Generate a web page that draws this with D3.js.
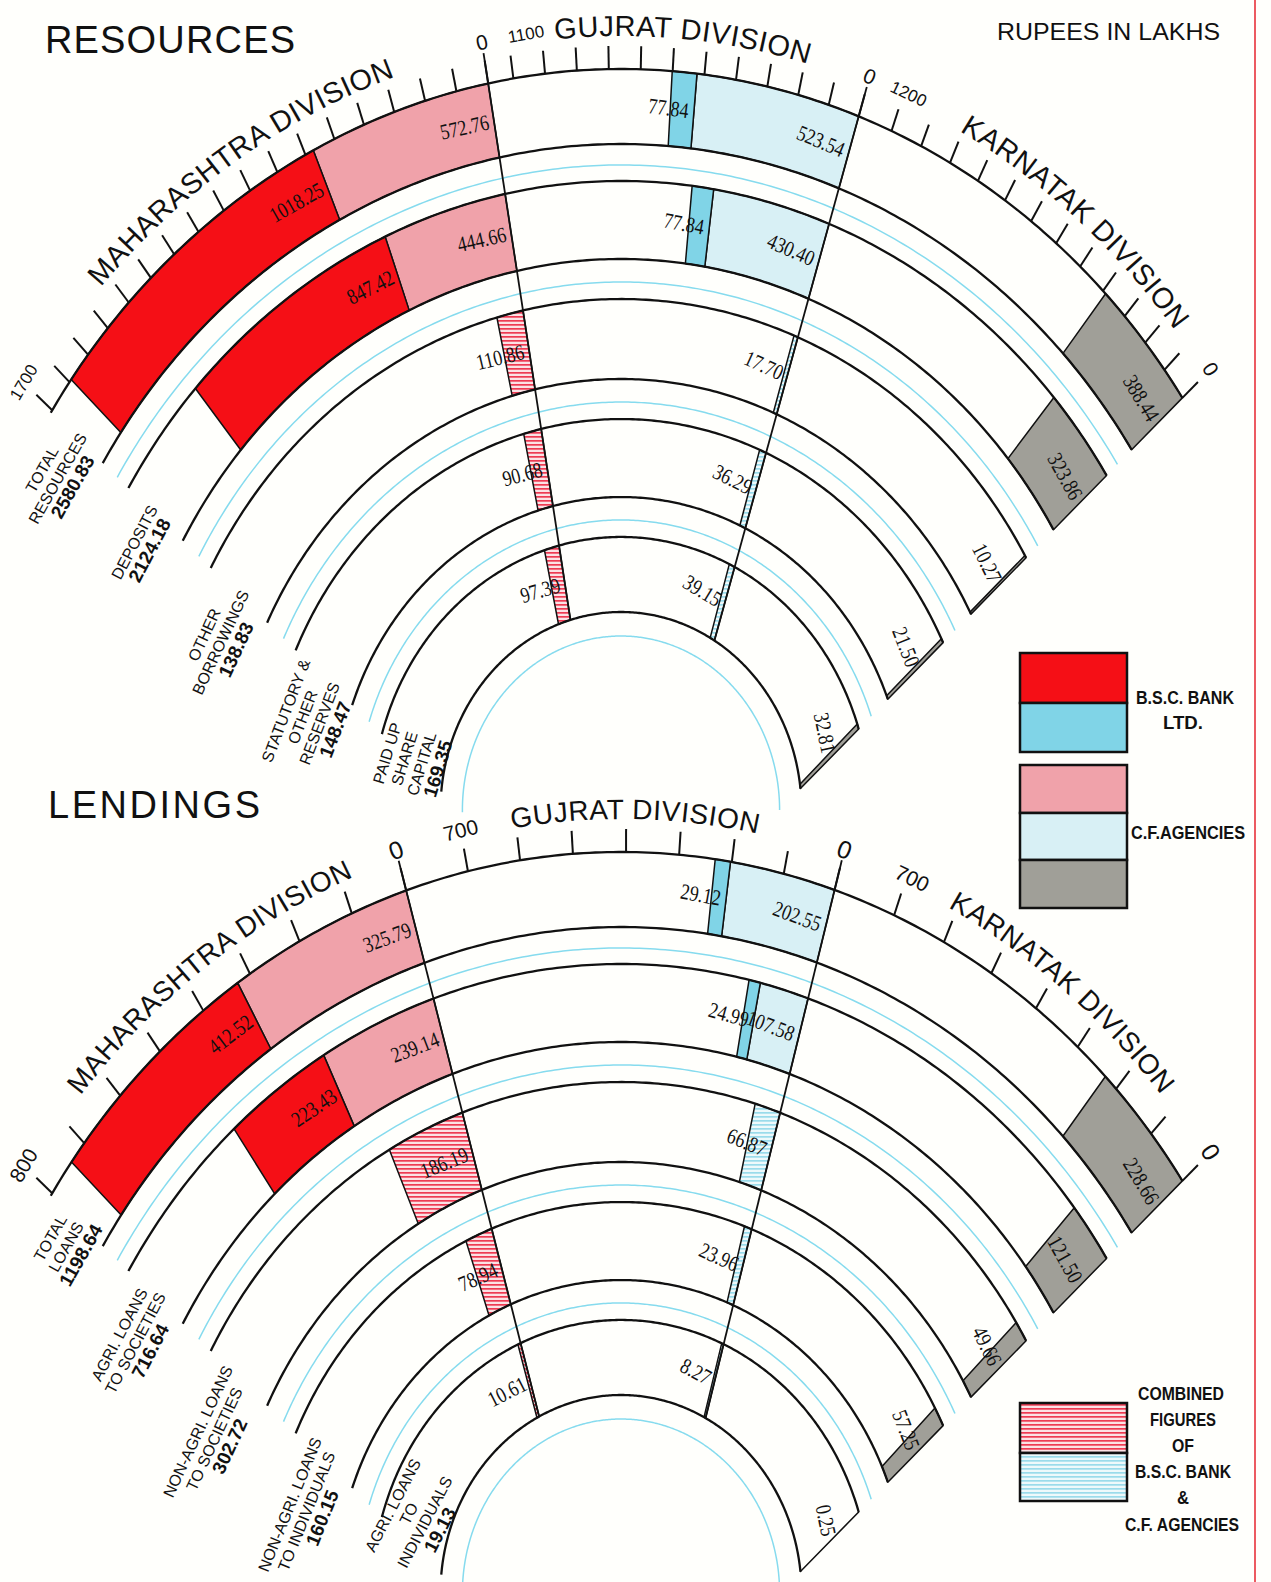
<!DOCTYPE html>
<html>
<head>
<meta charset="utf-8">
<script src="https://cdn.jsdelivr.net/npm/d3@7"></script>
<style>
  body { margin: 0; background: #fffffc; }
  svg { display: block; }
  text { font-family: "Liberation Sans", "DejaVu Sans", sans-serif; fill: #111; }
  .num { font-family: "Liberation Serif", "DejaVu Serif", serif; }
  .leg { font-family: "Liberation Sans Narrow", "Liberation Sans", sans-serif; font-weight: bold; }
</style>
</head>
<body>
<div id="chart"></div>
<script>
// ---- data (rupees in lakhs) ----
const divisionNames = ['MAHARASHTRA DIVISION', 'GUJRAT DIVISION', 'KARNATAK DIVISION'];

const resRingNames = [['TOTAL', 'RESOURCES'], ['DEPOSITS'], ['OTHER', 'BORROWINGS'],
                      ['STATUTORY &', 'OTHER', 'RESERVES'], ['PAID UP', 'SHARE', 'CAPITAL']];
const resRingTotals = [2580.83, 2124.18, 138.83, 148.47, 169.35];
const resMahBsc  = [1018.25, 847.42, 0, 0, 0];
const resMahCf   = [572.76, 444.66, 0, 0, 0];
const resMahComb = [0, 0, 110.86, 90.68, 97.39];
const resGujBsc  = [77.84, 77.84, 0, 0, 0];
const resGujCf   = [523.54, 430.40, 0, 0, 0];
const resGujComb = [0, 0, 17.70, 36.29, 39.15];
const resKarCf   = [388.44, 323.86, 10.27, 21.50, 32.81];
const resScaleMax = [1700, 1100, 1200];

const lendRingNames = [['TOTAL', 'LOANS'], ['AGRI. LOANS', 'TO SOCIETIES'], ['NON-AGRI. LOANS', 'TO SOCIETIES'],
                       ['NON-AGRI. LOANS', 'TO INDIVIDUALS'], ['AGRI. LOANS', 'TO', 'INDIVIDUALS']];
const lendRingTotals = [1198.64, 716.64, 302.72, 160.15, 19.13];
const lendMahBsc  = [412.52, 223.43, 0, 0, 0];
const lendMahCf   = [325.79, 239.14, 0, 0, 0];
const lendMahComb = [0, 0, 186.19, 78.94, 10.61];
const lendGujBsc  = [29.12, 24.99, 0, 0, 0];
const lendGujCf   = [202.55, 107.58, 0, 0, 0];
const lendGujComb = [0, 0, 66.87, 23.96, 8.27];
const lendKarCf   = [228.66, 121.50, 49.66, 57.25, 0.25];
const lendScaleMax = [800, 700, 700];

// ---- colours ----
const RED = '#f50f16', BLUE = '#80d4e7', PINK = '#f0a2aa', LBLUE = '#d8f0f5', GREY = '#a09f98';

// ---- geometry: rings are ellipses round (CX, cy), value lines run from a point V below the centre ----
const W = 1271, H = 1582;
const CX = 621, STRETCH = 1.097;
const VX = 3, VY = 145;
const RING_R = [[675.5, 607.1], [573.4, 502.3], [465.8, 392.9], [356.4, 285.3], [248.9, 180.5]];
const CYAN_R = [588, 481.3, 371.9, 264.4, 158.6];
const PHI_LEFT = -48.5, PHI_RIGHT = 47;
const deg = Math.PI / 180;

const svg = d3.select('#chart').append('svg').attr('width', W).attr('height', H);
svg.append('rect').attr('width', W).attr('height', H).attr('fill', '#fffffc');
const defs = svg.append('defs');

function stripes(id, bg, fg) {
    const p = defs.append('pattern').attr('id', id).attr('patternUnits', 'userSpaceOnUse')
        .attr('width', 6).attr('height', 4);
    p.append('rect').attr('width', 6).attr('height', 4).attr('fill', bg);
    p.append('rect').attr('width', 6).attr('height', 1.7).attr('fill', fg);
}
stripes('stripeRed', '#fbe1e4', '#ee3a52');
stripes('stripeCyan', '#eef9fb', '#9adbeb');

function buildRings(mahBsc, mahCf, mahComb, gujBsc, gujCf, gujComb, karCf) {
    return d3.range(5).map(function (k) {
        const segs = [];
        if (mahComb[k]) {
            segs.push({ div: 0, v0: 0, v1: mahComb[k], fill: 'url(#stripeRed)', value: mahComb[k] });
        } else {
            segs.push({ div: 0, v0: 0, v1: mahCf[k], fill: PINK, value: mahCf[k] });
            segs.push({ div: 0, v0: mahCf[k], v1: mahCf[k] + mahBsc[k], fill: RED, value: mahBsc[k] });
        }
        if (gujComb[k]) {
            segs.push({ div: 1, v0: 0, v1: gujComb[k], fill: 'url(#stripeCyan)', value: gujComb[k] });
        } else {
            segs.push({ div: 1, v0: 0, v1: gujCf[k], fill: LBLUE, value: gujCf[k] });
            segs.push({ div: 1, v0: gujCf[k], v1: gujCf[k] + gujBsc[k], fill: BLUE, value: gujBsc[k] });
        }
        segs.push({ div: 2, v0: 0, v1: karCf[k], fill: GREY, value: karCf[k] });
        return segs;
    });
}

const panels = [
    {
        cy: 810, title: 'RESOURCES', titleX: 45, titleY: 53, titleLen: 250,
        names: resRingNames, totals: resRingTotals, scaleMax: resScaleMax,
        rings: buildRings(resMahBsc, resMahCf, resMahComb, resGujBsc, resGujCf, resGujComb, resKarCf),
        zeroPhi: [-9.55, 16.8, PHI_RIGHT], maxPhi: [-48.3, -7.76, 19.3],
        maxShift: [0, 18, 5], namePhi: [-32, 4.8, 39], nameSize: 29, tickFont: 17,
        labelPhi: [-48.5, -48.5, -48.5, -48, -44]
    },
    {
        cy: 1593, title: 'LENDINGS', titleX: 48, titleY: 818, titleLen: 212,
        names: lendRingNames, totals: lendRingTotals, scaleMax: lendScaleMax,
        rings: buildRings(lendMahBsc, lendMahCf, lendMahComb, lendGujBsc, lendGujCf, lendGujComb, lendKarCf),
        zeroPhi: [-15.5, 15, PHI_RIGHT], maxPhi: [-48.3, -11, 19.5],
        maxShift: [0, 0, 6], namePhi: [-35, 1.1, 37.6], nameSize: 28, tickFont: 21,
        labelPhi: [-48.5, -48.5, -48.5, -47, -37]
    }
];

// distance along the value line phi (from V) to the ellipse of model radius r
function hitT(phi, r) {
    const ux = Math.sin(phi * deg), uy = -Math.cos(phi * deg);
    const b = VX * ux + VY * uy;
    const c = VX * VX + VY * VY - r * r;
    return -b + Math.sqrt(b * b - c);
}
function along(phi, t) {
    return [VX + Math.sin(phi * deg) * t, VY - Math.cos(phi * deg) * t];
}
function hit(phi, r) { return along(phi, hitT(phi, r)); }

function drawPanel(P) {
    const g = svg.append('g');
    const scr = function (p) { return [CX + p[0], P.cy + p[1] * STRETCH]; };
    const tanAngle = function (p) { return Math.atan2(p[0] * STRETCH, -p[1]) / deg; };
    const line = d3.line();
    const arcPts = function (r, pa, pb) {
        const a = hit(pa, r), b = hit(pb, r);
        let t1 = Math.atan2(a[1], a[0]);
        const t2 = Math.atan2(b[1], b[0]);
        if (t1 > t2) t1 -= 2 * Math.PI;
        const n = Math.max(2, Math.ceil((t2 - t1) / deg * 2));
        return d3.range(n + 1).map(function (i) {
            const t = t1 + (t2 - t1) * i / n;
            return scr([r * Math.cos(t), r * Math.sin(t)]);
        });
    };
    const scales = P.scaleMax.map(function (m, i) {
        return d3.scaleLinear().domain([0, m]).range([P.zeroPhi[i], P.maxPhi[i]]);
    });

    // bars
    P.rings.forEach(function (segs, k) {
        const ro = RING_R[k][0], ri = RING_R[k][1];
        segs.forEach(function (s) {
            const a = scales[s.div](s.v1), b = scales[s.div](s.v0);
            const pa = Math.min(a, b), pb = Math.max(a, b);
            const pts = arcPts(ro, pa, pb).concat(arcPts(ri, pa, pb).reverse());
            g.append('path').attr('d', line(pts) + 'Z')
                .attr('fill', s.fill).attr('stroke', '#111').attr('stroke-width', 1.5)
                .attr('stroke-linejoin', 'round');
        });
    });

    // ring outlines and cyan guide circles
    RING_R.forEach(function (rr, k) {
        [rr[0], rr[1]].forEach(function (r) {
            g.append('path').attr('d', line(arcPts(r, PHI_LEFT, PHI_RIGHT)))
                .attr('fill', 'none').attr('stroke', '#111').attr('stroke-width', 2.3);
        });
        g.append('path').attr('d', line(arcPts(CYAN_R[k], PHI_LEFT, PHI_RIGHT)))
            .attr('fill', 'none').attr('stroke', '#86dbee').attr('stroke-width', 1.5);
    });

    // division boundary lines (zero of Maharashtra and Gujrat)
    const r1 = RING_R[0][0];
    [0, 1].forEach(function (d) {
        const phi = P.zeroPhi[d];
        const p1 = scr(hit(phi, r1 + 28));
        const p2 = scr(along(phi, hitT(phi, CYAN_R[4]) + 22));
        g.append('line').attr('x1', p1[0]).attr('y1', p1[1]).attr('x2', p2[0]).attr('y2', p2[1])
            .attr('stroke', '#111').attr('stroke-width', 1.8);
    });

    // ticks every 100
    scales.forEach(function (sc, d) {
        d3.range(0, P.scaleMax[d] + 1, 100).forEach(function (v) {
            const phi = sc(v);
            const p1 = scr(hit(phi, r1)), p2 = scr(hit(phi, r1 + 21));
            g.append('line').attr('x1', p1[0]).attr('y1', p1[1]).attr('x2', p2[0]).attr('y2', p2[1])
                .attr('stroke', '#111').attr('stroke-width', 2);
        });
        // end labels
        [[0, 0], [P.scaleMax[d], P.maxShift[d]]].forEach(function (lv) {
            const p = hit(sc(lv[0]), r1 + 38);
            const s = scr(p);
            g.append('text')
                .attr('transform', 'translate(' + s[0] + ',' + s[1] + ') rotate(' + tanAngle(p) + ')')
                .attr('x', lv[1]).attr('dy', '0.35em').attr('text-anchor', 'middle')
                .style('font-size', (lv[0] === 0 ? P.tickFont + 4 : P.tickFont) + 'px')
                .text(lv[0]);
        });
    });

    // division names along the outer arc
    const rT = r1 + 30;
    P.namePhi.forEach(function (np, d) {
        const tc = (np - 90) * deg;
        const pts = d3.range(91).map(function (i) {
            const t = tc + (i - 45) * deg;
            return scr([rT * Math.cos(t), rT * Math.sin(t)]);
        });
        const id = 'name' + P.cy + '_' + d;
        defs.append('path').attr('id', id).attr('d', line(pts));
        g.append('text').style('font-size', P.nameSize + 'px').style('letter-spacing', '0.5px')
            .append('textPath').attr('href', '#' + id).attr('startOffset', '50%')
            .attr('text-anchor', 'middle').text(divisionNames[d]);
    });

    // value labels on bars
    P.rings.forEach(function (segs, k) {
        const rm = (RING_R[k][0] + RING_R[k][1]) / 2;
        segs.forEach(function (s) {
            const pb = Math.max(scales[s.div](s.v1), scales[s.div](s.v0));
            const p = hit(pb, rm);
            const q = scr(p);
            g.append('text').attr('class', 'num')
                .attr('transform', 'translate(' + q[0] + ',' + q[1] + ') rotate(' + tanAngle(p) + ') scale(0.9,1.1)')
                .attr('x', -6).attr('dy', '0.35em').attr('text-anchor', 'end')
                .style('font-size', '20px').text(s.value.toFixed(2));
        });
    });

    // ring names at the left ends
    P.names.forEach(function (lines, k) {
        const rm = (RING_R[k][0] + RING_R[k][1]) / 2;
        const p = hit(P.labelPhi[k], rm);
        const q = scr(p);
        const all = lines.concat([P.totals[k].toFixed(2)]);
        const tg = g.append('g')
            .attr('transform', 'translate(' + q[0] + ',' + q[1] + ') rotate(' + tanAngle(p) + ')');
        const texts = all.map(function (t, i) {
            const last = i === all.length - 1;
            return tg.append('text').attr('text-anchor', 'middle')
                .attr('y', (i - (all.length - 1) / 2) * 18 + 9)
                .style('font-size', last ? '19px' : '16px')
                .style('font-weight', last ? 'bold' : 'normal')
                .text(t);
        });
        const maxW = d3.max(texts, function (t) { return t.node().getComputedTextLength(); });
        texts.forEach(function (t) { t.attr('x', -(maxW / 2 - 6)); });
    });

    // panel title
    svg.append('text').attr('x', P.titleX).attr('y', P.titleY)
        .attr('textLength', P.titleLen).attr('lengthAdjust', 'spacing')
        .style('font-size', '38px').text(P.title);
}

panels.forEach(drawPanel);

svg.append('text').attr('x', 997).attr('y', 40).attr('textLength', 223).attr('lengthAdjust', 'spacingAndGlyphs')
    .style('font-size', '24px').text('RUPEES IN LAKHS');

// ---- legends ----
const legendBoxes = [
    [653, 50, RED], [703, 49, BLUE], [765, 48, PINK], [813, 47, LBLUE], [860, 48, GREY],
    [1403, 50, 'url(#stripeRed)'], [1453, 48, 'url(#stripeCyan)']
];
legendBoxes.forEach(function (b) {
    svg.append('rect').attr('x', 1020).attr('y', b[0]).attr('width', 107).attr('height', b[1])
        .attr('fill', b[2]).attr('stroke', '#111').attr('stroke-width', 2.5);
});
const legendText = [
    ['B.S.C. BANK', 1185, 704, 98], ['LTD.', 1183, 729, 40], ['C.F.AGENCIES', 1188, 839, 114],
    ['COMBINED', 1181, 1400, 86], ['FIGURES', 1183, 1426, 66], ['OF', 1183, 1452, 22],
    ['B.S.C. BANK', 1183, 1478, 96], ['&', 1183, 1504, 12], ['C.F. AGENCIES', 1182, 1531, 114]
];
legendText.forEach(function (t) {
    svg.append('text').attr('class', 'leg').attr('x', t[1]).attr('y', t[2]).attr('text-anchor', 'middle')
        .attr('textLength', t[3]).attr('lengthAdjust', 'spacingAndGlyphs')
        .style('font-size', '19px').text(t[0]);
});

// page edge rule
svg.append('line').attr('x1', 1255).attr('y1', 0).attr('x2', 1255).attr('y2', H)
    .attr('stroke', '#e8313a').attr('stroke-width', 1.6);
</script>
</body>
</html>
